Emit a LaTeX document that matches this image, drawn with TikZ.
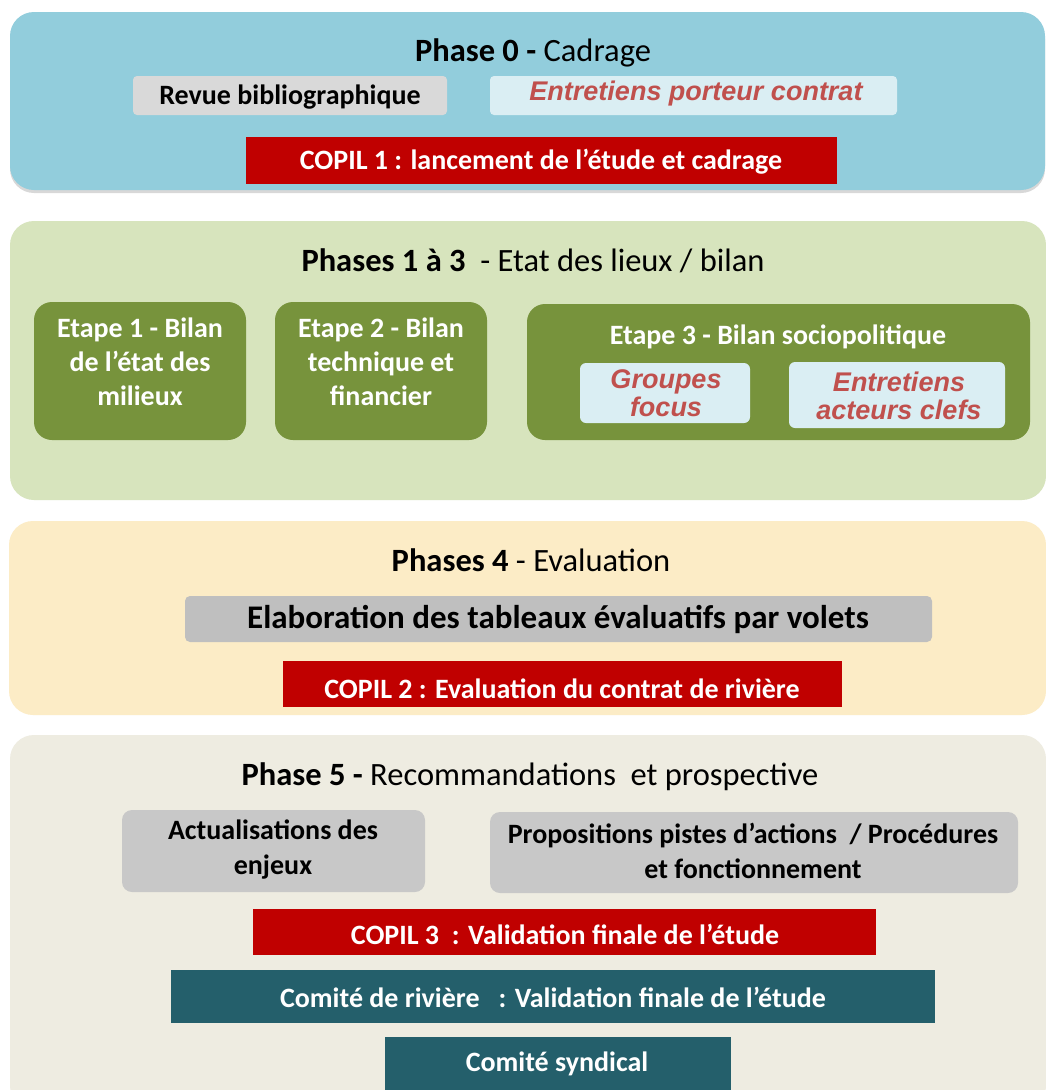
\documentclass[tikz,border=0pt]{standalone}
\usepackage{fontspec}
\setmainfont{Carlito}
\newfontfamily\arialf{Liberation Sans}
\usetikzlibrary{shadows}
\definecolor{pblue}{HTML}{92CDDC}
\definecolor{pgreen}{HTML}{D7E4BD}
\definecolor{pyellow}{HTML}{FCECC6}
\definecolor{pgrey}{HTML}{EEECE1}
\definecolor{dgreen}{HTML}{77933C}
\definecolor{lblue}{HTML}{DAEEF3}
\definecolor{copred}{HTML}{C00000}
\definecolor{teal}{HTML}{245F6B}
\definecolor{itred}{HTML}{C0504D}
\definecolor{grA}{HTML}{D9D9D9}
\definecolor{grB}{HTML}{BFBFBF}
\definecolor{grC}{HTML}{C8C8C8}
\tikzset{
  panel/.style={rounded corners=24pt},
  shpanel/.style={panel, drop shadow={opacity=0.3, shadow xshift=0pt, shadow yshift=-3pt}},
  ttl/.style={font=\fontsize{32.5}{38}\selectfont, text=black, inner sep=0pt},
  txt/.style={font=\fontsize{28}{34}\selectfont\bfseries, align=center, inner sep=0pt},
  itx/.style={font=\arialf\fontsize{27}{28}\selectfont\bfseries\itshape, text=itred, align=center, inner sep=0pt},
  wtx/.style={txt, text=white},
}
\begin{document}
\begin{tikzpicture}[x=1pt,y=-1pt]
\useasboundingbox[fill=white] (0,0) rectangle (1046,1090);
% panels
\path[shpanel, fill=pblue] (10,12) rectangle (1045,190);
\path[panel, fill=pgreen] (10,221) rectangle (1046,500);
\path[panel, fill=pyellow] (9,521) rectangle (1046,715);
\path[panel, fill=pgrey] (10,735) rectangle (1046,1110);

% Phase 0
\node[ttl] (t0) at (533,53) {\textbf{Phase 0 -} Cadrage};
\fill[grA, rounded corners=4pt] (133,76) rectangle (447,115);
\node[txt] (rev) at (290,97) {Revue bibliographique};
\fill[lblue, rounded corners=4pt] (490,76) rectangle (897,115);
\node[itx] (ent) at (696,94) {Entretiens porteur contrat};
\fill[copred] (246,137) rectangle (837,184);
\node[wtx] (c1) at (541,162) {COPIL 1 : lancement de l’étude et cadrage};

% Phases 1-3
\node[ttl] (t1) at (533,261) {\textbf{Phases 1 à 3} ~- Etat des lieux / bilan};
\fill[dgreen, rounded corners=18pt] (34,302) rectangle (246,440);
\node[wtx] (e1) at (140,362) {Etape 1 - Bilan\\de l’état des\\milieux};
\fill[dgreen, rounded corners=18pt] (275,302) rectangle (487,440);
\node[wtx] (e2) at (381,362) {Etape 2 - Bilan\\technique et\\financier};
\fill[dgreen, rounded corners=18pt] (527,304) rectangle (1030,440);
\node[wtx] (e3) at (778,337) {Etape 3 - Bilan sociopolitique};
\fill[lblue, rounded corners=6pt] (580,363) rectangle (750,423);
\node[itx] (gf) at (666,393) {Groupes\\focus};
\fill[lblue, rounded corners=6pt] (789,362) rectangle (1005,428);
\node[itx] (eac) at (899,396) {Entretiens\\acteurs clefs};

% Phase 4
\node[ttl] (t4) at (531,560) {\textbf{Phases 4} - Evaluation};
\fill[grB, rounded corners=5pt] (185,596) rectangle (932,642);
\node[txt, font=\fontsize{33}{38}\selectfont\bfseries] (ela) at (558,619) {Elaboration des tableaux évaluatifs par volets};
\fill[copred] (283,661) rectangle (842,707);
\node[wtx] (c2) at (562,689) {COPIL 2 : Evaluation du contrat de rivière};

% Phase 5
\node[ttl] (t5) at (530,777) {\textbf{Phase 5 -} Recommandations~ et prospective};
\fill[grC, rounded corners=10pt] (122,810) rectangle (425,892);
\node[txt, font=\fontsize{28}{35}\selectfont\bfseries] (act) at (273,850) {Actualisations des\\enjeux};
\fill[grC, rounded corners=10pt] (490,812) rectangle (1018,893);
\node[txt, font=\fontsize{28}{35}\selectfont\bfseries] (pro) at (753,851) {Propositions pistes d’actions ~/ Procédures\\et fonctionnement};
\fill[copred] (253,909) rectangle (876,955);
\node[wtx] (c3) at (565,934) {COPIL 3 ~: Validation finale de l’étude};
\fill[teal] (171,970) rectangle (935,1023);
\node[wtx] (cr) at (553,997) {Comité de rivière ~ : Validation finale de l’étude};
\fill[teal] (385,1037) rectangle (731,1095);
\node[wtx] (cs) at (557,1064) {Comité syndical};
\end{tikzpicture}
\end{document}
